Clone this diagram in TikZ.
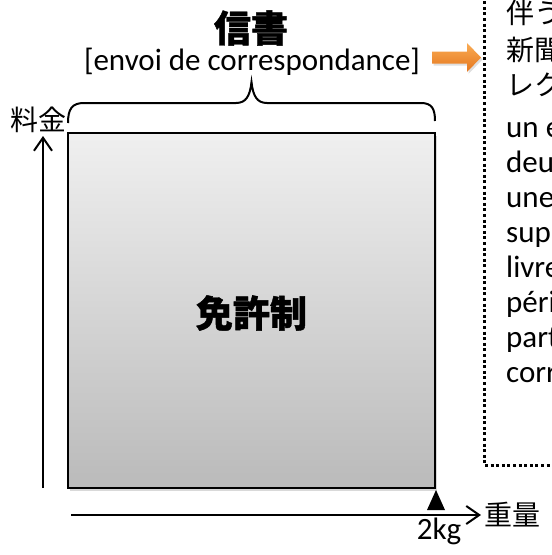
\documentclass[tikz,border=0pt]{standalone}
\usepackage{fontspec}
\setmainfont{Carlito}
\newfontfamily\jp{Noto Sans CJK JP}[BoldFeatures={FakeBold=1.2}]
\usetikzlibrary{arrows.meta,shadows}
\definecolor{orangeTop}{RGB}{250,172,84}
\definecolor{orangeBot}{RGB}{228,118,30}
\begin{document}
\begin{tikzpicture}[x=1pt,y=-1pt,
  latin/.style={inner sep=0pt,font=\fontsize{31}{31}\selectfont},
  jptext/.style={inner sep=0pt,font=\jp\fontsize{28}{28}\selectfont},
  jpbold/.style={inner sep=0pt,font=\jp\bfseries\fontsize{37}{37}\selectfont},
  bigbox/.style={rectangle,draw=black,line width=2.6pt,minimum width=367pt,minimum height=355pt,
    top color=black!6,bottom color=black!27,
    drop shadow={opacity=0.3,shadow xshift=2pt,shadow yshift=-3pt}},
  axisline/.style={line width=2pt,-{Straight Barb[length=13pt,width=18pt,line width=2pt]}},
  bracepath/.style={line width=2pt},
  dotbox/.style={line width=3pt,dash pattern=on 3pt off 2.6pt},
  bodytext/.style={inner sep=0pt,anchor=base west}
]
\useasboundingbox (0,0) rectangle (552,555);
\begin{scope}
\clip (0,0) rectangle (552,555);

% main box
\node[bigbox] (box) at (251.5,310.5) {};
\node[jpbold] (kyoka) at (251.5,313) {免許制};

% title
\node[jpbold] (title) at (251,28) {信書};
\node[latin,anchor=base] (envoi) at (252,70) {[envoi de correspondance]};

% brace
\draw[bracepath] (68,123) .. controls (68,109) and (72,103) .. (84,103)
  -- (236,103) .. controls (246,103) and (250,96) .. (251.5,82)
  .. controls (253,96) and (257,103) .. (267,103)
  -- (421,103) .. controls (432,103) and (435,109) .. (435,121);

% orange arrow
\shade[top color=orangeTop,bottom color=orangeBot,
  drop shadow={opacity=0.25,shadow xshift=1.5pt,shadow yshift=-2pt}]
  (432,51.5) -- (467,51.5) -- (467,43) -- (481,57.5) -- (467,72) -- (467,63.5) -- (432,63.5) -- cycle;

% dotted box
\draw[dotbox] (484,-10) -- (484,465) -- (570,465);

% box text (clipped at the right edge, as in the reference)
\node[bodytext,jptext] (l1) at (506,23) {伴う通信};
\node[bodytext,jptext] (l2) at (506,60) {新聞、雑誌};
\node[bodytext,jptext] (l3) at (506,95) {レクラム};
\node[bodytext,latin] (f1) at (506,137) {un envoi de};
\node[bodytext,latin] (f2) at (506,172) {deux kilogrammes};
\node[bodytext,latin] (f3) at (506,207) {une communication};
\node[bodytext,latin] (f4) at (506,242) {support physique};
\node[bodytext,latin] (f5) at (506,277) {livres, catalogues};
\node[bodytext,latin] (f6) at (506,312) {périodiques};
\node[bodytext,latin] (f7) at (506,347) {partie de la};
\node[bodytext,latin] (f8) at (506,382) {correspondance};

% axes
\coordinate (yfoot) at (43,488);
\coordinate (ytip) at (43,136);
\draw[axisline] (yfoot) -- (ytip);
\coordinate (xfoot) at (71,515);
\coordinate (xtip) at (481,515);
\draw[axisline] (xfoot) -- (xtip);

\node[jptext] (ryokin) at (38,120) {料金};
\node[jptext] (juryo) at (512,515) {重量};

% 2kg marker
\fill (436,490) -- (445,510) -- (427,510) -- cycle;
\node[latin,anchor=base] (kg) at (439,539) {2kg};
\end{scope}
\end{tikzpicture}
\end{document}
